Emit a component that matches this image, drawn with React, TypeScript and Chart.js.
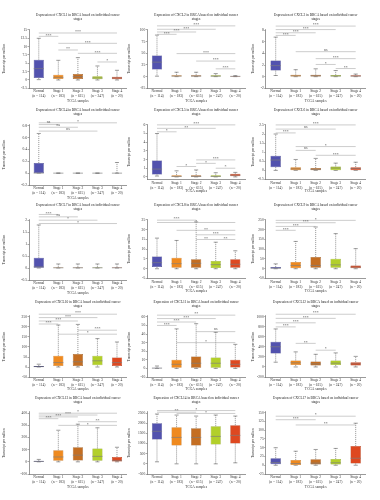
import React, { useEffect, useRef } from "react";
import { Chart, registerables } from "chart.js";

Chart.register(...registerables);

// ---------- data ----------
const CATEGORIES = [
  ["Normal", "(n = 114)"],
  ["Stage 1", "(n = 183)"],
  ["Stage 2", "(n = 615)"],
  ["Stage 3", "(n = 247)"],
  ["Stage 4", "(n = 20)"],
];
const X_TITLE = "TCGA samples";
const Y_TITLE = "Transcript per million";
const GENES = ["CXCL1", "CXCL2", "CXCL3", "CXCL4", "CXCL5", "CXCL6", "CXCL7", "CXCL8", "CXCL9", "CXCL10", "CXCL11", "CXCL12", "CXCL13", "CXCL14", "CXCL17"];

// box rows: [lower whisker, Q1, median, Q3, upper whisker] for Normal, Stage 1..4
// sig rows: [from group, to group, value, label]
const CXCL1_BOX = [[0.1, 0.6, 3.4, 6.1, 12.5], [0, 0.3, 0.8, 1.6, 5.9], [0, 0.3, 1.0, 1.8, 6.7], [0, 0.2, 0.6, 1.1, 4.2], [0, 0.2, 0.6, 1.0, 2.9]];
const CXCL1_SIG = [[0, 4, 14.1, "***"], [0, 1, 13.1, "***"], [1, 4, 11.0, "***"], [1, 2, 9.0, "**"], [2, 4, 8.0, "***"], [3, 4, 5.4, "*"]];
const CXCL1_TICKS = [-2.5, 0, 2.5, 5, 7.5, 10, 12.5, 15];
const CXCL1_RANGE = [-2.5, 15.3];

const CXCL2_BOX = [[1, 15, 31, 45.5, 89], [0, 0.3, 1.2, 3, 9.4], [0, 0.3, 1.2, 3, 9.4], [0, 0.2, 1, 2.8, 6.5], [0, 0.2, 0.6, 1.5, 2.2]];
const CXCL2_SIG = [[0, 4, 108.7, "***"], [0, 3, 101.4, "***"], [0, 2, 95.6, "***"], [0, 1, 90.6, "***"], [1, 4, 49.3, "***"], [2, 4, 33.3, "***"], [3, 4, 16.7, "***"]];
const CXCL2_TICKS = [-25, 0, 25, 50, 75, 100];
const CXCL2_RANGE = [-25, 102];

const CXCL3_BOX = [[0.2, 1.05, 1.9, 2.8, 6.8], [0, 0.03, 0.15, 0.35, 1.2], [0, 0.03, 0.15, 0.35, 1.35], [0, 0.03, 0.12, 0.3, 1.05], [0, 0.02, 0.1, 0.25, 0.45]];
const CXCL3_SIG = [[0, 4, 8.7, "***"], [0, 3, 8.1, "***"], [0, 2, 7.55, "***"], [0, 1, 7.1, "***"], [1, 4, 4.3, "ns"], [2, 4, 3.1, "***"], [2, 3, 2.1, "*"], [3, 4, 1.4, "**"]];
const CXCL3_TICKS = [-2, 0, 2, 4, 6, 8];
const CXCL3_RANGE = [-2, 8.2];

const CXCL4_BOX = [[0, 0, 0, 0.17, 0.67], [0, 0, 0, 0, 0], [0, 0, 0, 0, 0], [0, 0, 0, 0, 0], [0, 0, 0, 0, 0.18]];
const CXCL4_SIG = [[0, 4, 0.85, "*"], [0, 1, 0.82, "ns"], [0, 2, 0.775, "ns"], [0, 3, 0.71, "ns"]];
const CXCL4_TICKS = [-0.2, 0, 0.2, 0.4, 0.6, 0.8];
const CXCL4_RANGE = [-0.2, 0.83];

const CXCL5_BOX = [[0.1, 0.28, 0.9, 1.88, 5.0], [0, 0, 0.05, 0.2, 0.7], [0, 0, 0.05, 0.2, 0.8], [0, 0, 0.05, 0.18, 0.48], [0, 0.08, 0.2, 0.36, 0.52]];
const CXCL5_SIG = [[0, 4, 6.0, "***"], [0, 3, 5.6, "**"], [0, 1, 5.2, "*"], [2, 4, 1.96, "***"], [2, 3, 1.56, "*"], [1, 2, 1.2, "*"], [3, 4, 1.0, "*"]];
const CXCL5_TICKS = [0, 1, 2, 3, 4, 5, 6];
const CXCL5_RANGE = [-0.3, 6.1];

const CXCL6_BOX = [[0, 0.18, 0.57, 0.8, 2.0], [0, 0, 0.08, 0.17, 0.6], [0, 0, 0.06, 0.13, 0.66], [0, 0.01, 0.13, 0.22, 0.4], [0, 0, 0.1, 0.18, 0.45]];
const CXCL6_SIG = [[0, 4, 2.5, "***"], [0, 3, 2.27, "ns"], [0, 1, 2.06, "***"], [1, 4, 1.31, "*"], [1, 2, 1.1, "ns"], [2, 4, 0.83, "***"]];
const CXCL6_TICKS = [-0.5, 0, 0.5, 1, 1.5, 2, 2.5];
const CXCL6_RANGE = [-0.5, 2.55];

const CXCL7_BOX = [[0, 0, 0.05, 0.43, 1.8], [0, 0, 0.01, 0.03, 0.17], [0, 0, 0.01, 0.03, 0.17], [0, 0, 0.01, 0.03, 0.17], [0, 0, 0.01, 0.03, 0.17]];
const CXCL7_SIG = [[0, 1, 2.24, "***"], [0, 2, 2.14, "ns"], [0, 3, 2.0, "*"], [0, 4, 1.86, "*"]];
const CXCL7_TICKS = [-0.5, 0, 0.5, 1, 1.5, 2];
const CXCL7_RANGE = [-0.5, 2.05];

const CXCL8_BOX = [[0, 0.9, 3.1, 6.3, 15.7], [0, 0.5, 2.6, 5.7, 14.5], [0, 0.5, 2.8, 4.9, 24], [0, 0.35, 2.1, 4.0, 13.6], [0, 0.5, 2.3, 4.9, 9.2]];
const CXCL8_SIG = [[0, 2, 24.9, "***"], [0, 4, 23.7, "*"], [1, 4, 19.7, "**"], [2, 4, 17.4, "***"], [2, 3, 15.0, "**"], [3, 4, 15.0, "**"]];
const CXCL8_TICKS = [-5, 0, 5, 10, 15, 20, 25];
const CXCL8_RANGE = [-5, 25.5];

const CXCL9_BOX = [[0, 1, 3, 8.5, 25], [0, 3, 17, 34, 140], [0, 5, 17, 60, 214], [0, 5, 20, 51, 180], [0, 2, 8.5, 17, 103]];
const CXCL9_SIG = [[0, 4, 248, "*"], [0, 3, 236, "***"], [0, 2, 217, "***"], [0, 1, 197, "***"]];
const CXCL9_TICKS = [-50, 0, 50, 100, 150, 200, 250];
const CXCL9_RANGE = [-50, 255];

const CXCL10_BOX = [[0, 0.5, 2, 5, 14], [0, 5, 22, 56, 210], [0, 5, 26, 65, 213], [0, 8.5, 31, 56, 142], [0, 5, 22, 48, 125]];
const CXCL10_SIG = [[0, 4, 264, "***"], [0, 3, 247, "***"], [0, 2, 230, "***"], [0, 1, 215, "***"], [2, 4, 184, "***"], [1, 4, 164, "*"]];
const CXCL10_TICKS = [-50, 0, 50, 100, 150, 200, 250];
const CXCL10_RANGE = [-50, 255];

const CXCL11_BOX = [[0, 0.1, 0.3, 0.8, 2.8], [0, 0.8, 4.8, 10, 46], [0, 0.8, 6, 14, 52], [0, 0.8, 6, 12.8, 42], [0, 1, 4.8, 10, 28]];
const CXCL11_SIG = [[0, 4, 62, "**"], [0, 3, 58, "***"], [0, 2, 54, "***"], [0, 1, 50, "***"], [2, 4, 42.8, "ns"], [1, 4, 30, "*"]];
const CXCL11_TICKS = [-10, 0, 10, 20, 30, 40, 50, 60];
const CXCL11_RANGE = [-10, 61];

const CXCL12_BOX = [[95, 266, 402, 504, 757], [0, 41, 82, 130, 300], [0, 27, 61, 109, 252], [0, 41, 75, 130, 280], [0, 27, 61, 95, 211]];
const CXCL12_SIG = [[0, 4, 1050, "***"], [0, 3, 968, "***"], [0, 2, 879, "***"], [0, 1, 798, "***"], [1, 2, 470, "**"], [2, 3, 334, "*"]];
const CXCL12_TICKS = [-200, 0, 200, 400, 600, 800, 1000];
const CXCL12_RANGE = [-200, 1015];

const CXCL13_BOX = [[0, 1, 3, 8, 20], [0, 10, 40, 95, 260], [0, 12, 55, 120, 310], [0, 10, 45, 110, 280], [0, 3, 12, 40, 120]];
const CXCL13_SIG = [[0, 4, 400, "*"], [0, 3, 385, "***"], [0, 2, 370, "***"], [0, 1, 355, "***"], [2, 4, 330, "**"], [1, 4, 300, "*"]];
const CXCL13_TICKS = [-100, 0, 100, 200, 300, 400];
const CXCL13_RANGE = [-100, 410];

const CXCL14_BOX = [[100, 1200, 1600, 2000, 2450], [0, 900, 1300, 1800, 2400], [0, 900, 1300, 1750, 2350], [0, 950, 1350, 1850, 2400], [50, 1000, 1400, 1900, 2350]];
const CXCL14_SIG = [[0, 4, 2620, "*"], [0, 2, 2540, "**"], [1, 4, 2480, "*"]];
const CXCL14_TICKS = [-500, 0, 500, 1000, 1500, 2000, 2500];
const CXCL14_RANGE = [-500, 2550];

const CXCL17_BOX = [[0, 3, 8, 20, 50], [0, 1, 5, 15, 40], [0, 2, 6, 17, 45], [0, 2, 7, 18, 48], [0, 5, 20, 55, 120]];
const CXCL17_SIG = [[0, 4, 140, "*"], [0, 2, 130, "***"], [1, 4, 115, "**"]];
const CXCL17_TICKS = [-25, 0, 25, 50, 75, 100, 125, 150];
const CXCL17_RANGE = [-25, 152];

const BOXES = [CXCL1_BOX, CXCL2_BOX, CXCL3_BOX, CXCL4_BOX, CXCL5_BOX, CXCL6_BOX, CXCL7_BOX, CXCL8_BOX, CXCL9_BOX, CXCL10_BOX, CXCL11_BOX, CXCL12_BOX, CXCL13_BOX, CXCL14_BOX, CXCL17_BOX];
const SIGS = [CXCL1_SIG, CXCL2_SIG, CXCL3_SIG, CXCL4_SIG, CXCL5_SIG, CXCL6_SIG, CXCL7_SIG, CXCL8_SIG, CXCL9_SIG, CXCL10_SIG, CXCL11_SIG, CXCL12_SIG, CXCL13_SIG, CXCL14_SIG, CXCL17_SIG];
const TICKS = [CXCL1_TICKS, CXCL2_TICKS, CXCL3_TICKS, CXCL4_TICKS, CXCL5_TICKS, CXCL6_TICKS, CXCL7_TICKS, CXCL8_TICKS, CXCL9_TICKS, CXCL10_TICKS, CXCL11_TICKS, CXCL12_TICKS, CXCL13_TICKS, CXCL14_TICKS, CXCL17_TICKS];
const RANGES = [CXCL1_RANGE, CXCL2_RANGE, CXCL3_RANGE, CXCL4_RANGE, CXCL5_RANGE, CXCL6_RANGE, CXCL7_RANGE, CXCL8_RANGE, CXCL9_RANGE, CXCL10_RANGE, CXCL11_RANGE, CXCL12_RANGE, CXCL13_RANGE, CXCL14_RANGE, CXCL17_RANGE];

// ---------- styles / layout ----------
const FILL = ["#5252ae", "#ef8a1f", "#c46e22", "#b2cf2a", "#de4820"];
const EDGE = ["#34347e", "#b9650f", "#8e4c12", "#7f9612", "#a3300f"];
const FONT = "'Liberation Serif', 'DejaVu Serif', serif";

const COL_LEFT = [0, 125, 249];
const COL_YAXIS_W = [29, 22.2, 16.7];
const COL_PLOT_RIGHT = [126.75, 245.1, 365.7];
const ROW_TITLE_Y = [15, 110, 205, 302, 398];
const PLOT_BOTTOM = [88.3, 88.3, 88.3, 185, 179.5, 179.5, 280, 278.5, 278.5, 377, 377, 377, 474, 474, 474];
const XTITLE_Y = [101, 101, 101, 198, 191, 191, 293, 291, 291, 389, 389, 389, 487, 487, 487];

const boxPlugin = {
  id: "boxExtras",
  beforeDatasetsDraw(chart: any, _a: any, opts: any) {
    const { ctx } = chart;
    const y = chart.scales.y;
    const meta = chart.getDatasetMeta(0);
    ctx.save();
    opts.box.forEach((b: number[], i: number) => {
      const el = meta.data[i];
      const cx = el.x;
      const w = el.width;
      ctx.strokeStyle = "#3a3a3a";
      ctx.lineWidth = 0.5;
      ctx.setLineDash([1.1, 0.9]);
      ctx.beginPath();
      ctx.moveTo(cx, y.getPixelForValue(b[3]));
      ctx.lineTo(cx, y.getPixelForValue(b[4]));
      ctx.moveTo(cx, y.getPixelForValue(b[1]));
      ctx.lineTo(cx, y.getPixelForValue(b[0]));
      ctx.stroke();
      ctx.setLineDash([]);
      const cw = w * 0.4;
      ctx.beginPath();
      ctx.moveTo(cx - cw / 2, y.getPixelForValue(b[4]));
      ctx.lineTo(cx + cw / 2, y.getPixelForValue(b[4]));
      ctx.moveTo(cx - cw / 2, y.getPixelForValue(b[0]));
      ctx.lineTo(cx + cw / 2, y.getPixelForValue(b[0]));
      ctx.stroke();
    });
    ctx.restore();
  },
  afterDatasetsDraw(chart: any, _a: any, opts: any) {
    const { ctx } = chart;
    const y = chart.scales.y;
    const x = chart.scales.x;
    const meta = chart.getDatasetMeta(0);
    ctx.save();
    opts.box.forEach((b: number[], i: number) => {
      const el = meta.data[i];
      const py = y.getPixelForValue(b[2]);
      ctx.strokeStyle = "rgba(125,125,125,0.95)";
      ctx.lineWidth = 0.7;
      ctx.beginPath();
      ctx.moveTo(el.x - el.width / 2, py);
      ctx.lineTo(el.x + el.width / 2, py);
      ctx.stroke();
    });
    opts.sig.forEach((s: any[]) => {
      const x1 = x.getPixelForValue(s[0]);
      const x2 = x.getPixelForValue(s[1]);
      const py = y.getPixelForValue(s[2]);
      ctx.strokeStyle = "#9a9a9a";
      ctx.lineWidth = 0.5;
      ctx.beginPath();
      ctx.moveTo(x1, py);
      ctx.lineTo(x2, py);
      ctx.stroke();
      ctx.fillStyle = "#555";
      ctx.font = `4px ${FONT}`;
      ctx.textAlign = "center";
      ctx.textBaseline = "bottom";
      ctx.fillText(s[3], (x1 + x2) / 2, py + (s[3] === "ns" ? -0.2 : 1.2));
    });
    ctx.restore();
  },
};

function Panel({ idx }: { idx: number }) {
  const ref = useRef<HTMLCanvasElement>(null);
  const col = idx % 3;
  const row = Math.floor(idx / 3);
  const titleY = ROW_TITLE_Y[row];
  const canvasTop = Math.floor(titleY - 3);
  const canvasBottom = XTITLE_Y[idx] + 2.1;
  const height = Math.ceil(canvasBottom - canvasTop);
  const left = COL_LEFT[col];
  const width = Math.ceil(COL_PLOT_RIGHT[col] - left + 1);
  const padRight = left + width - COL_PLOT_RIGHT[col];
  const padBottom = canvasTop + height - canvasBottom;
  const xAxisH = canvasBottom - PLOT_BOTTOM[idx];

  useEffect(() => {
    const box = BOXES[idx];
    const ticks = TICKS[idx];
    const range = RANGES[idx];
    const tickFont = { family: FONT, size: 3.6, lineHeight: 1.4 };
    const chart = new Chart(ref.current as HTMLCanvasElement, {
      type: "bar",
      data: {
        labels: CATEGORIES,
        datasets: [
          {
            data: box.map((b) => [b[1], b[3]]),
            backgroundColor: FILL,
            borderColor: EDGE,
            borderWidth: 0.5,
            borderSkipped: false,
            barPercentage: 0.52,
            categoryPercentage: 1,
          } as any,
        ],
      },
      options: {
        responsive: false,
        animation: false,
        devicePixelRatio: 1,
        layout: { padding: { left: 0, right: padRight, top: 0, bottom: padBottom } },
        plugins: {
          legend: { display: false },
          tooltip: { enabled: false },
          title: {
            display: true,
            text: [`Expression of ${GENES[idx]} in BRCA based on individual cancer`, "stages"],
            font: { family: FONT, size: 3.5, weight: "normal", lineHeight: 1.2 },
            color: "#222",
            padding: { top: titleY - 2.1 - canvasTop, bottom: 7.7 },
            fullSize: false,
          },
          boxExtras: { box, sig: SIGS[idx] },
        } as any,
        scales: {
          x: {
            grid: { display: false, drawTicks: false, tickLength: 0 },
            border: { display: true, color: "#555", width: 0.6 },
            ticks: { font: tickFont, color: "#333", padding: 0.6, maxRotation: 0, minRotation: 0, autoSkip: false },
            title: { display: true, text: X_TITLE, font: { family: FONT, size: 3.5, lineHeight: 1.2 }, color: "#333", padding: 0 },
            afterFit: (s: any) => {
              s.height = xAxisH;
            },
          },
          y: {
            min: range[0],
            max: range[1],
            afterBuildTicks: (s: any) => {
              s.ticks = ticks.map((v) => ({ value: v }));
            },
            grid: { display: true, drawOnChartArea: false, drawTicks: true, tickLength: 1.5, color: "#555", lineWidth: 0.5 },
            border: { display: true, color: "#555", width: 0.6 },
            ticks: { font: tickFont, color: "#333", padding: 0.5, callback: (v: any) => String(v) },
            title: { display: true, text: Y_TITLE, font: { family: FONT, size: 3.4, lineHeight: 1.2 }, color: "#333", padding: { top: 2, bottom: 0 } },
            afterFit: (s: any) => {
              s.width = COL_YAXIS_W[col];
            },
          },
        },
      } as any,
      plugins: [boxPlugin as any],
    });
    return () => chart.destroy();
  }, [idx]);

  return (
    <canvas
      ref={ref}
      width={width}
      height={height}
      style={{ position: "absolute", left, top: canvasTop, width, height }}
    />
  );
}

export default function App() {
  return (
    <div style={{ position: "fixed", left: 0, top: 0, width: 380, height: 500, background: "#fff", overflow: "hidden" }}>
      {GENES.map((g, i) => (
        <Panel key={g} idx={i} />
      ))}
    </div>
  );
}
